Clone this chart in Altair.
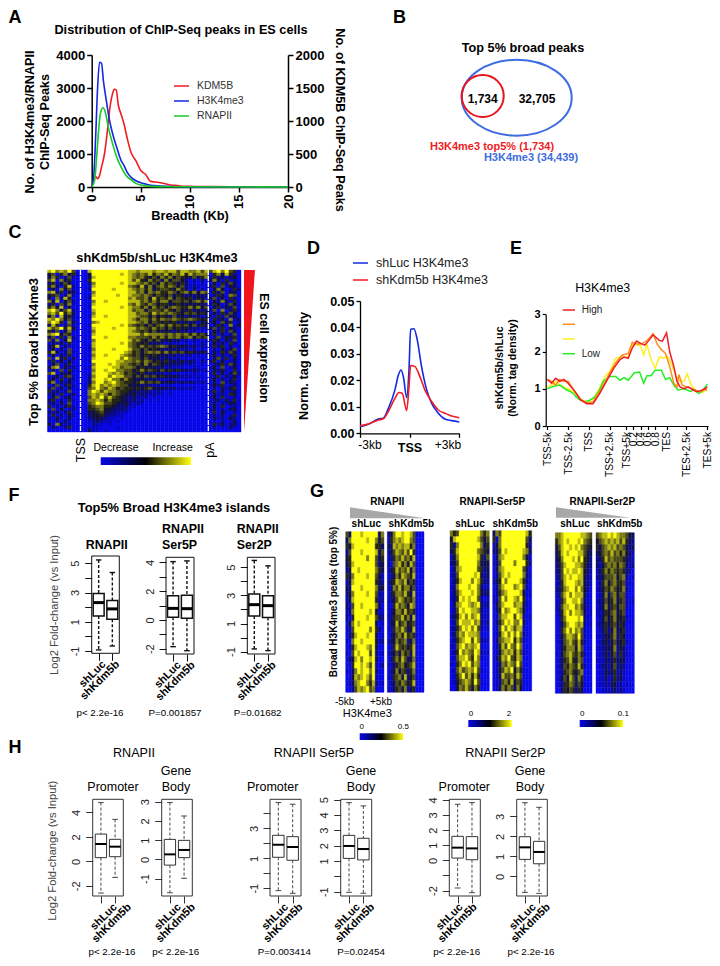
import altair as alt
import pandas as pd

W, H = 704, 950
FONT = "Liberation Sans"

def X(p): return p - 8
def Y(p): return p - 8

charts = []
ONE = alt.Data(values=[{"a": 1}])

def T(s, x, y, size=10, bold=False, angle=0, color="#000000", align="center"):
    kw = dict(fontSize=size, font=FONT, align=align, baseline="middle", color=color)
    if bold: kw["fontWeight"] = "bold"
    if angle: kw["angle"] = angle
    charts.append(alt.Chart(ONE).mark_text(**kw).encode(x=alt.value(X(x)), y=alt.value(Y(y)), text=alt.value(s)))

def HL(x0, x1, y, color, width=1.5):
    charts.append(alt.Chart(ONE).mark_rule(color=color, strokeWidth=width).encode(
        x=alt.value(X(x0)), x2=alt.value(X(x1)), y=alt.value(Y(y))))

def SHAPE(path, cx, cy, side, color, filled=True, sw=2):
    kw = dict(shape=path, size=side * side, opacity=1, color=color, filled=filled)
    if not filled: kw["strokeWidth"] = sw
    charts.append(alt.Chart(ONE).mark_point(**kw).encode(x=alt.value(X(cx)), y=alt.value(Y(cy))))

def sc_x(d, px): return alt.Scale(domain=d, range=[X(px[0]), X(px[1])], nice=False, zero=False)
def sc_y(d, px): return alt.Scale(domain=d, range=[Y(px[0]), Y(px[1])], nice=False, zero=False)

def ax_left(left, **k):
    base = dict(orient="left", offset=-X(left), title=None, grid=False, labelOverlap=False, labelFlush=False, labelFont=FONT)
    base.update(k); return alt.Axis(**base)
def ax_right(right, **k):
    base = dict(orient="right", offset=X(right) - W, title=None, grid=False, labelOverlap=False, labelFlush=False, labelFont=FONT)
    base.update(k); return alt.Axis(**base)
def ax_bottom(bottom, **k):
    base = dict(orient="bottom", offset=Y(bottom) - H, title=None, grid=False, labelOverlap=False, labelFlush=False, labelFont=FONT)
    base.update(k); return alt.Axis(**base)

def LINE(xs, ys, color, xs_scale, ys_scale, xaxis=None, yaxis=None, width=1.6, interp="monotone"):
    df = pd.DataFrame({"x": xs, "y": ys})
    charts.append(alt.Chart(df).mark_line(color=color, strokeWidth=width, interpolate=interp).encode(
        x=alt.X("x:Q", scale=xs_scale, axis=xaxis), y=alt.Y("y:Q", scale=ys_scale, axis=yaxis)))

# ---------- A ----------
a_kdm_x = [0, .2, .4, .6, .8, 1.0, 1.3, 1.6, 1.9, 2.1, 2.3, 2.5, 2.7, 3.0, 3.3, 3.6, 4.0, 4.5, 5, 5.5, 6, 6.5, 7, 7.5, 8, 8.5, 9, 10, 12, 15, 20]
a_kdm_y = [0, 100, 160, 125, 175, 300, 500, 850, 1250, 1400, 1480, 1475, 1250, 1100, 950, 750, 525, 400, 250, 190, 85, 75, 65, 50, 30, 25, 15, 10, 5, 2, 0]
a_h3_x = [0, .2, .4, .6, .8, 1.0, 1.2, 1.5, 1.8, 2.1, 2.5, 3, 3.3, 3.6, 4, 4.5, 5, 5.5, 6, 7, 8, 10, 20]
a_h3_y = [0, 300, 1500, 3000, 3780, 3750, 3200, 2600, 2050, 1650, 1250, 800, 650, 450, 300, 190, 130, 90, 50, 30, 15, 5, 0]
a_pol_x = [0, .3, .5, .7, .9, 1.15, 1.4, 1.7, 2, 2.5, 3, 3.5, 4, 4.5, 5, 6, 8, 20]
a_pol_y = [0, 200, 900, 1700, 2250, 2400, 2250, 1800, 1450, 950, 600, 350, 220, 110, 60, 20, 8, 0]

ax_a = dict(domainColor="#000", domainWidth=1.5, tickColor="#000", tickWidth=1.5, tickSize=5,
            labelFontWeight="bold", labelColor="#000", labelFontSize=13, labelPadding=2, format="d")
ax = sc_x([0, 20], (91.7, 288))
LINE(a_kdm_x, a_kdm_y, "#f01c24", ax, sc_y([0, 2000], (187, 55)),
     yaxis=ax_right(288, values=[0, 500, 1000, 1500, 2000], **ax_a))
LINE(a_h3_x, a_h3_y, "#1428e0", ax, sc_y([0, 4000], (187, 55)),
     xaxis=ax_bottom(187, values=[0, 5, 10, 15, 20], labelAngle=-90, labelAlign="right", labelBaseline="middle", **ax_a),
     yaxis=ax_left(91.7, values=[0, 1000, 2000, 3000, 4000], **ax_a))
LINE(a_pol_x, a_pol_y, "#18c828", ax, sc_y([0, 4000], (187, 55)))
T("Distribution of ChIP-Seq peaks in ES cells", 181, 30, 12.7, True)
T("No. of H3K4me3/RNAPII", 30, 122, 12.6, True, 270)
T("ChIP-Seq Peaks", 45, 122, 12.6, True, 270)
T("No. of KDM5B ChIP-Seq Peaks", 340, 120, 12.6, True, 90)
T("Breadth (Kb)", 190, 216, 12.8, True)
for lab, col, yy in zip(["KDM5B", "H3K4me3", "RNAPII"], ["#f01c24", "#1428e0", "#18c828"], [86, 101, 116]):
    HL(174, 189, yy, col)
    T(lab, 197, yy, 10.5, False, 0, "#333333", "left")

# ---------- B ----------
SHAPE("M-1,0 A1,0.69,0,1,1,1,0 A1,0.69,0,1,1,-1,0 Z", 516.7, 97.7, 110, "#3d6be0", False, 2)
SHAPE("circle", 482.7, 96, 42, "#e8141c", False, 2)
T("Top 5% broad peaks", 523, 48, 12.7, True)
T("1,734", 482.7, 99, 12, True)
T("32,705", 537, 99, 12, True)
T("H3K4me3 top5% (1,734)", 492, 147, 11, True, 0, "#ee1c25")
T("H3K4me3 (34,439)", 531, 158, 11, True, 0, "#3d6be0")

# ---------- heat maps ----------
palette = ["#0808e8", "#0808c0", "#0a0a90", "#0e0e60", "#12123a", "#262615", "#4a4a18", "#7c7c14", "#b8b810", "#ffff10"]

def HEAT(rows, left, right, top, bottom):
    rows = [r.replace(" ", "") for r in rows]
    ncol = max(len(r) for r in rows)
    rec = []
    for i, r in enumerate(rows):
        for j, ch in enumerate(r):
            rec.append({"c": j, "c2": j + 1, "r": i, "r2": i + 1, "h": palette[int(ch)]})
    df = pd.DataFrame(rec)
    charts.append(alt.Chart(df).mark_rect(strokeWidth=0.4).encode(
        x=alt.X("c:Q", scale=sc_x([0, ncol], (left, right)), axis=None), x2="c2:Q",
        y=alt.Y("r:Q", scale=sc_y([0, len(rows)], (top, bottom)), axis=None), y2="r2:Q",
        color=alt.Color("h:N", scale=None), stroke=alt.Stroke("h:N", scale=None)))

def GRAD(x0, x1, y0, y1):
    grad = alt.Gradient(gradient="linear", x1=0, x2=1, y1=0, y2=0, stops=[
        alt.GradientStop(color="#0808e8", offset=0), alt.GradientStop(color="#000000", offset=0.5),
        alt.GradientStop(color="#ffff10", offset=1)])
    charts.append(alt.Chart(ONE).mark_rect(color=grad).encode(
        x=alt.value(X(x0)), x2=alt.value(X(x1)), y=alt.value(Y(y0)), y2=alt.value(Y(y1))))

# ---------- C ----------
heat_c = [
"8978796 000 8999999999 88788878878868877868 68979650",
"4605735 100 4999999989 87676857685768586777 05738520",
"3750261 000 3899999999 87675464757465436357 15240340",
"6807350 000 5999999999 86854756374664202030 37405120",
"2513640 000 2799999989 88767564756535301010 04052630",
"5730582 000 1899999999 76584746757646212101 25061430",
"1407361 000 2999998999 87675735665475303020 03740152",
"7825043 000 0799999999 88674767557646757476 15260430",
"3560271 000 1899999899 87767646546354232423 02530761",
"4072850 000 2999999999 78667485657465452431 36140520",
"7380462 000 0799899999 88867575774665646757 04273150",
"2506371 000 1899999999 76865764553454343432 15302640",
"5738140 000 1999999989 87757475646765575746 03514260",
"8974682 000 0899999999 86774666575464352423 26070351",
"7869573 000 0799999999 88677586767654656454 04152630",
"4708352 000 1899899999 88766464543634242312 30516240",
"8797461 000 0999999999 87577575766765676545 05240713",
"7985073 000 0789999999 88767465454532423134 14063502",
"3850261 000 1999999989 76564646757565646353 02530714",
"8679584 000 0899998999 88676575646454332212 36150420",
"5260371 000 1799999999 87656464343242312010 04251630",
"7893650 000 0899999999 88868777767676757564 15030260",
"3605172 000 1999899999 77666575757675674656 02614350",
"6270481 000 0799999999 86754646434231202101 25304160",
"0314050 000 0899999989 76545323212110101021 04130520",
"2580301 000 1899999999 76575656764534323121 15250301",
"1403060 000 1799998999 86646454323231202010 02041360",
"5830261 000 0899999998 75646767575656454343 03152640",
"0403150 000 1799899987 65645454332312120101 14030250",
"6082503 000 0899999979 76646343232120101010 03615040",
"1504031 000 1999999887 76757645353424232021 25040130",
"0360250 000 0799989877 65647465433232121010 02351640",
"3780412 000 1899998867 76454342312111001100 14060230",
"1306051 000 0799899776 64575654645453323212 03241050",
"6803240 000 1899987875 65353232212010101000 15040362",
"0240561 000 2799979886 64646564543432121110 02503140",
"1405032 000 2899897757 54343232112110100100 14030250",
"5703140 000 3799789765 54575656434323232121 03061420",
"0260351 000 5897878766 43423212011000000000 14250130",
"2604031 000 6797687565 54545643432312121010 02031450",
"5130260 000 7986877655 43323212101000000000 15040230",
"1405013 000 7878757654 34232121101000000000 03120540",
"0360240 000 6879686543 23212010000000000000 14050120",
"3502051 000 7787575543 23120101000000000000 02304150",
"1304060 000 6798665434 21210000000000000000 13021430",
"5020351 000 5677554323 11000000000000000000 04050120",
"0604012 000 5567443232 10000000000000000000 13020340",
"3130250 000 3456432211 00000000000000000000 05041020",
"0502041 000 3445322110 00000000000000000000 12030150",
"2041030 000 2343211010 00000000000000000000 03120420",
"1020310 000 1232110100 00000000000000000000 01020130",
"4073120 000 0211010000 00000000000000000000 05140230",
"0310250 000 1110000100 00000000000000000000 02010310",
"0000000 000 3110100000 00000000000000000000 00000000",
]
HEAT(heat_c, 47.5, 241, 270, 432)
for xx in [80.5, 208.3]:
    charts.append(alt.Chart(ONE).mark_rule(color="#ffffff", strokeWidth=1.3, strokeDash=[5, 1]).encode(
        x=alt.value(X(xx)), y=alt.value(Y(270)), y2=alt.value(Y(432))))
SHAPE("M-1,-1 L-0.865,-1 L-1,1 Z", 325, 351, 162, "#f0141c")
T("shKdm5b/shLuc H3K4me3", 157, 258, 12.8, True)
T("Top 5% Broad H3K4me3", 34, 352, 12.9, True, 270)
T("ES cell expression", 264, 348, 12.4, True, 90)
T("TSS", 80.7, 450, 12.5, False, 270)
T("pA", 210, 450, 12.5, False, 270)
T("Decrease", 116, 447.7, 10.5)
T("Increase", 172.7, 447.7, 10.5)
GRAD(100.7, 191, 457.3, 465)

# ---------- D ----------
d_blue_x = [-3, -2.5, -1.89, -1.59, -1.29, -.89, -.68, -.52, -.38, -.18, -.04, .06, .26, .46, .72, 1.03, 1.33, 1.73, 2.13, 2.54, 3]
d_blue_y = [.0025, .0034, .0054, .0057, .0093, .0164, .022, .0239, .0214, .0135, .0239, .0393, .0395, .0353, .0252, .0164, .0113, .0076, .0054, .0048, .0043]
d_red_x = [-3, -2.5, -1.89, -1.59, -1.29, -.89, -.65, -.45, -.18, -.04, .06, .32, .62, .92, 1.33, 1.73, 2.13, 2.54, 3]
d_red_y = [.0028, .0035, .005, .0055, .0082, .0132, .0154, .0151, .0086, .0176, .0256, .0252, .0214, .0164, .012, .0088, .0076, .0065, .0059]
dx = sc_x([-3, 3], (360, 459.3))
dy = sc_y([0, .05], (433.3, 301))
ax_d = dict(domainColor="#000", domainWidth=1.3, tickColor="#000", tickWidth=1.3, tickSize=4)
LINE(d_blue_x, d_blue_y, "#1428e0", dx, dy,
     xaxis=ax_bottom(433.3, values=[-3, 0, 3], labels=False, **ax_d),
     yaxis=ax_left(360, values=[0, .01, .02, .03, .04, .05], format=".2f", labelFontWeight="bold", labelColor="#000", labelFontSize=12.5, labelPadding=2, **ax_d))
LINE(d_red_x, d_red_y, "#f01c24", dx, dy)
T("-3kb", 370, 444.7, 12)
T("TSS", 410, 448, 12.5, True)
T("+3kb", 448, 444.7, 12)
T("Norm. tag density", 304, 366, 12.8, True, 270)
for lab, col, yy in zip(["shLuc H3K4me3", "shKdm5b H3K4me3"], ["#1428e0", "#f01c24"], [263, 280]):
    HL(353, 368, yy, col)
    T(lab, 376, yy, 12.5, False, 0, "#222222", "left")

# ---------- E ----------
e_tick_pos = [0, 10, 20, 30, 38, 41.4, 45, 48.4, 52, 57.5, 67, 77.2]
e_tick_lab = ["TSS-5k", "TSS-2.5k", "TSS", "TSS+2.5k", "TSS+5k", "0.2", "0.4", "0.6", "0.8", "TES", "TES+2.5k", "TES+5k"]
e_red_x = [0, 2, 4, 6, 8, 10, 13, 16, 19, 22, 25, 28, 32, 35, 37, 39, 41, 43, 45, 47, 49, 51, 54, 55.5, 57.5, 59, 61, 62.5, 64, 66, 68, 70, 72, 74, 76, 77.2]
e_red_y = [1.25, 1.15, 1.28, 1.2, 1.25, 1.15, .95, .7, .6, .6, .85, 1.15, 1.55, 1.78, 1.85, 1.82, 2.1, 2.28, 2.22, 2.17, 2.3, 2.45, 2.3, 2.28, 2.5, 2, 1.6, 1.2, 1.05, 1.0, 1.05, .98, .92, .95, 1.0, 1.05]
e_org_x = [0, 2, 4, 6, 8, 10, 13, 16, 19, 22, 25, 28, 30, 33, 36, 39, 41, 43, 45, 47, 49, 51, 53, 55, 57, 59, 61, 62.5, 63.5, 65, 67, 70, 72, 74, 76, 77]
e_org_y = [1.25, 1.2, 1.1, 1.25, 1.2, 1.2, .95, .72, .62, .65, .9, 1.2, 1.42, 1.7, 1.9, 1.95, 2.25, 2.2, 2.2, 2.25, 2.35, 2.48, 2.2, 2.05, 1.95, 1.6, 1.15, 1.05, 1.38, 1.1, 1.05, 1.0, .95, .92, 1.0, .95]
e_yel_x = [0, 2, 4, 6, 8, 10, 13, 16, 19, 22, 25, 28, 30, 33, 36, 39, 41, 43, 45, 46.5, 48, 50, 52, 54, 56, 58, 60, 62, 64, 66, 67.5, 69, 71, 73, 75, 77]
e_yel_y = [1.05, 1.1, 1.2, 1.1, 1.05, 1.0, .9, .7, .65, .72, 1.0, 1.35, 1.45, 1.82, 1.85, 1.85, 2.2, 2.18, 2.15, 1.9, 2.2, 1.8, 1.55, 1.85, 1.83, 1.87, 1.65, 1.35, 1.2, 1.2, 1.4, 1.15, .95, .95, .9, 1.0]
e_grn_x = [0, 3, 6, 9, 12, 15, 18, 20, 23, 25, 27, 30, 33, 35, 37, 39, 42, 44.5, 46.5, 48, 50, 52, 55, 57, 59, 61, 63, 66, 69, 71, 73, 75, 77.2]
e_grn_y = [1.0, 1.07, 1.1, .98, .9, .72, .65, .68, .78, .95, 1.2, 1.33, 1.33, 1.23, 1.3, 1.23, 1.43, 1.45, 1.15, 1.35, 1.35, 1.5, 1.5, 1.25, 1.3, 1.1, .97, 1.0, .93, .98, .87, .95, 1.13]
ex = sc_x([-0.8, 77.5], (545.7, 708))
ey = sc_y([0, 3], (426, 314.3))
ax_e = dict(domainColor="#000", domainWidth=1.2, tickColor="#000", tickWidth=1.2, tickSize=3.5, labelColor="#000")
lab_expr = "[" + ",".join("'%s'" % s for s in e_tick_lab) + "][indexof([" + ",".join(str(p) for p in e_tick_pos) + "], datum.value)]"
LINE(e_yel_x, e_yel_y, "#ffee22", ex, ey, width=1.5, interp="linear",
     xaxis=ax_bottom(426, values=e_tick_pos, labelExpr=lab_expr, labelAngle=-90, labelAlign="right", labelBaseline="middle", labelFontSize=10.2, labelPadding=2, **ax_e),
     yaxis=ax_left(545.7, values=[0, 1, 2, 3], format="d", labelFontWeight="bold", labelFontSize=11, labelPadding=2, **ax_e))
LINE(e_grn_x, e_grn_y, "#22ee22", ex, ey, width=1.5, interp="linear")
LINE(e_org_x, e_org_y, "#ff8c1a", ex, ey, width=1.5, interp="linear")
LINE(e_red_x, e_red_y, "#f01c24", ex, ey, width=1.5, interp="linear")
T("H3K4me3", 602.7, 288, 12.4)
T("shKdm5b/shLuc", 500, 368, 10.7, True, 270)
T("(Norm. tag density)", 513, 368, 10.7, True, 270)
for lab, col, yy in zip(["High", "", "", "Low"], ["#f01c24", "#ff8c1a", "#ffee22", "#22ee22"], [310, 324.3, 339, 353.7]):
    HL(562.7, 575, yy, col)
    if lab: T(lab, 581.7, yy, 10, False, 0, "#222222", "left")

# ---------- box plots ----------
def BOX(stats, frame, ylim, ticks, labelled, xlim, thick, loff, tick=7):
    left, right, top, bottom = frame
    col = "#111111" if thick else "#333333"
    sw = 1.5 if thick else 1.0
    msw = 3 if thick else 2
    wsw = 1.4 if thick else 0.9
    xs = sc_x(xlim, (left, right))
    ys = sc_y(ylim, (bottom, top))
    rec = []
    for p, (lo, q1, med, q3, hi) in zip([1, 2], stats):
        rec.append(dict(p=p, a=p - .4, b=p + .4, c0=p - .2, c1=p + .2, lo=lo, q1=q1, med=med, q3=q3, hi=hi))
    df = pd.DataFrame(rec)
    xq = lambda f, axis=None: alt.X(f + ":Q", scale=xs, axis=axis)
    yq = lambda f, axis=None: alt.Y(f + ":Q", scale=ys, axis=axis)
    ycfg = dict(values=ticks, labelExpr="indexof([%s], datum.value) >= 0 ? '' + datum.value : ''" % ",".join(map(str, labelled)),
                labelAngle=-90, labelAlign="center", labelBaseline="bottom", labelFontSize=11, labelColor="#222222",
                labelPadding=4, domain=False, tickColor=col, tickWidth=1, tickSize=tick)
    xcfg = dict(values=[1, 2], labelExpr="datum.value == 1 ? 'shLuc' : 'shKdm5b'", labelAngle=-45, labelAlign="right",
                labelBaseline="middle", labelFontSize=11, labelFontWeight="bold", labelColor="#000", labelPadding=2,
                labelOffset=loff, domain=False, tickColor=col, tickWidth=1, tickSize=tick)
    charts.append(alt.Chart(ONE).mark_rect(fill="transparent", stroke=col, strokeWidth=1).encode(
        x=alt.value(X(left)), x2=alt.value(X(right)), y=alt.value(Y(top)), y2=alt.value(Y(bottom))))
    base = alt.Chart(df)
    charts.append(base.mark_rule(color=col, strokeWidth=wsw, strokeDash=[3, 2]).encode(
        x=xq("p", ax_bottom(bottom, **xcfg)), y=yq("hi", ax_left(left, **ycfg)), y2="q3:Q"))
    charts.append(base.mark_rule(color=col, strokeWidth=wsw, strokeDash=[3, 2]).encode(x=xq("p"), y=yq("q1"), y2="lo:Q"))
    charts.append(base.mark_rule(color=col, strokeWidth=wsw).encode(x=xq("c0"), x2="c1:Q", y=yq("hi")))
    charts.append(base.mark_rule(color=col, strokeWidth=wsw).encode(x=xq("c0"), x2="c1:Q", y=yq("lo")))
    charts.append(base.mark_rect(fill="#ffffff", stroke=col, strokeWidth=sw).encode(x=xq("a"), x2="b:Q", y=yq("q3"), y2="q1:Q"))
    charts.append(base.mark_rule(color="#000", strokeWidth=msw).encode(x=xq("a"), x2="b:Q", y=yq("med")))

# ---------- F ----------
f1 = [[-.93, 1.4, 2.31, 2.93, 5.23], [-.66, 1.17, 1.88, 2.45, 4.37]]
f2 = [[-1.86, .18, .8, 1.68, 4.05], [-2.14, .11, .78, 1.72, 4.1]]
f3 = [[-.81, 1.54, 2.34, 3.1, 5.49], [-.93, 1.42, 2.27, 2.98, 5.1]]
BOX(f1, (91.7, 119.3, 556, 653.3), [-1.16, 5.5], [-1, 0, 1, 2, 3, 4, 5], [-1, 1, 3, 5], [.49, 2.51], True, 5)
BOX(f2, (166, 194, 557.3, 654), [-2.37, 4.35], [-2, -1, 0, 1, 2, 3, 4], [-2, 0, 2, 4], [.49, 2.51], True, 6)
BOX(f3, (247.3, 275, 557.3, 654), [-1.17, 5.71], [-1, 0, 1, 2, 3, 4, 5], [-1, 1, 3, 5], [.49, 2.51], True, 6)
T("Top5% Broad H3K4me3 islands", 174, 508, 12.9, True)
T("RNAPII", 106.7, 545, 12.4, True)
T("RNAPII", 162, 529, 12.4, True, 0, "#000", "left")
T("Ser5P", 162, 545, 12.4, True, 0, "#000", "left")
T("RNAPII", 236.7, 529, 12.4, True, 0, "#000", "left")
T("Ser2P", 236.7, 545, 12.4, True, 0, "#000", "left")
T("Log2 Fold-change (vs Input)", 55, 605, 11.2, False, 270, "#444444")
T("p< 2.2e-16", 100, 712.7, 9.8)
T("P=0.001857", 175, 712.7, 9.8)
T("P=0.01682", 257.7, 712.7, 9.8)

# ---------- G ----------
g1 = ["6399989999937","3799999899746","5489999999553","2699989999836","4599999799635","3589999999624","2499899999753","5379999899641","1489999999532","3299989999734","2479999899621","1389999999512","3169989999730","1279999989411","2059999899632","0379899999301","1169999979520","0258999899301","1079989999412","0158999879300","1069899969201","0248979989300","0059989869102","1037989979200","0048789869100","0137899758201","0026878967100"]
g2 = ["2479989986100","1578789976000","3387878857000","1468768695000","1257686758000","2067857486000","1358676847000","0247587658000","1458768465000","1276857746000","0357768538000","1246875657000","1058676487000","0247758565000","1256685738000","0348567456000","1157686348000","0246758565000","1347567247000","0158656458000","1246475638000","0257586347000","1135674568000","0247465257000","1156748346000","0236576458000","1135647235000"]
g3 = ["7569999999757","4899999998646","5279999999735","3589999997654","1479999998526","2369999997434","0378999996523","1269999989413","0358999798522","1279998997311","0368999897423","1259898996201","0378998789312","0269899887301","1358979789211","0269888978302","1257989796201","0368798887100","0257899697211","1168978789100","0259787698201","0168897597100","1057989687000","0168678796100","0157968585000","0146787596100","0047686475000"]
g4 = ["3769999999985","5179999999963","1479999999952","2369899999873","0378999999741","1269999799952","0378999999630","0268989999721","1359799998520","0268999789610","0257899998401","1169799879500","0368999788310","0259789987400","0168899698201","0257989779300","0169798688100","0158979797200","0267889586100","0158697697000","0147878586100","0258796587000","0137687696000","0146879475000","0138667586000","0126758465000","0137576374000"]
g5 = ["7789999998876","5789899989765","4689989897654","3589899988643","3479998979542","2468999887532","2369898898431","1368989988421","1258999878321","2257899797420","1268979888310","1157998897210","1268899786310","0258979887301","0157999989210","0146899878201","0157979786100","0146887696100","0136786585100","0135777486000","1046786575100","0135685476000","0136576585100","0125675467000","0136486375000","0125576364000","0035465253000"]
g6 = ["6788989877643","4678787868532","5367878676423","3467686757431","2358676665321","3146767576312","1357576565220","2246667467201","0257467556110","1246576457200","0147367466100","1236457356101","0247356466100","1135467356000","0146357445100","1235356354000","0135247345000","1124357254000","0134246345100","1123347243000","0124246252100","1113235243000","0123146232000","0114235131000","0113125231000","0112134120100","0011123121000"]
HEAT(g1, 345.7, 384, 531.7, 692.3)
HEAT(g2, 387.3, 424, 531.7, 692.3)
HEAT(g3, 450, 489.3, 530.7, 691)
HEAT(g4, 492.7, 531.7, 530.7, 691)
HEAT(g5, 555.3, 592, 532.7, 693.3)
HEAT(g6, 596, 634.3, 532.7, 693.3)
T("RNAPII", 387.3, 501.7, 10, True)
T("RNAPII-Ser5P", 492.3, 501.7, 10, True)
T("RNAPII-Ser2P", 602.3, 501.7, 10, True)
SHAPE("M-1,-0.147 L-1,0.147 L1,0.147 Z", 387.5, 512.8, 75, "#a8a8a8")
SHAPE("M-1,-0.14 L-1,0.14 L1,0.14 Z", 593, 512.5, 74, "#a8a8a8")
for lab, xx in [("shLuc", 366.3), ("shKdm5b", 411.3), ("shLuc", 470), ("shKdm5b", 515.3), ("shLuc", 575), ("shKdm5b", 619.7)]:
    T(lab, xx, 524, 10, True)
T("Broad H3K4me3 peaks (top 5%)", 334.3, 602, 10, True, 270)
T("-5kb", 344.7, 702, 10)
T("+5kb", 381, 702, 10)
T("H3K4me3", 367.3, 714, 11)
GRAD(359.7, 403, 733.3, 740)
T("0", 361.7, 727, 8); T("0.5", 403.3, 727, 8)
GRAD(468.3, 511.7, 720, 727)
T("0", 471, 714, 8); T("2", 509, 714, 8)
GRAD(579.7, 623, 720, 727)
T("0", 582.3, 714, 8); T("0.1", 623.3, 714, 8)

# ---------- H ----------
h1 = [[-2.59, .3, 1.42, 2.23, 4.8], [-1.31, .38, 1.2, 1.8, 3.43]]
h2 = [[-1.74, -.3, .26, 1.04, 2.96], [-.99, .09, .49, .99, 2.26]]
h3 = [[-1.16, 1.07, 1.91, 2.54, 4.73], [-1.34, .87, 1.76, 2.45, 4.62]]
h4 = [[-1.04, 1.17, 1.98, 2.67, 4.8], [-1.1, 1.07, 1.78, 2.48, 4.59]]
h5 = [[-1.83, .15, .84, 1.59, 3.71], [-2.14, .04, .79, 1.57, 3.82]]
h6 = [[-.8, .85, 1.45, 1.98, 3.68], [-.85, .63, 1.22, 1.75, 3.45]]
lim = [.42, 2.58]
BOX(h1, (92.7, 123.3, 799.3, 896), [-2.83, 5.07], [-2, 0, 2, 4], [-2, 0, 2, 4], lim, False, 14)
BOX(h2, (161.7, 192.3, 799.3, 896), [-1.91, 3.13], [-1, 0, 1, 2, 3], [-1, 0, 1, 2, 3], lim, False, 9)
BOX(h3, (270, 301, 799.3, 896), [-1.52, 4.95], [-1, 0, 1, 2, 3, 4], [-1, 1, 3], lim, False, 8)
BOX(h4, (340.7, 371.7, 799.3, 896), [-1.28, 5.02], [-1, 0, 1, 2, 3, 4, 5], [-1, 1, 2, 3, 4, 5], lim, False, 9)
BOX(h5, (449.3, 480.3, 799.3, 896), [-2.36, 4.04], [-2, -1, 0, 1, 2, 3, 4], [-2, 0, 1, 2, 3, 4], lim, False, 3)
BOX(h6, (516.7, 547.3, 799.3, 896), [-.98, 3.85], [0, 1, 2, 3], [0, 1, 2, 3], lim, False, 9)
T("RNAPII", 134, 753, 12.6)
T("RNAPII Ser5P", 314, 753, 12.6)
T("RNAPII Ser2P", 505.5, 753, 12.6)
T("Promoter", 113, 786.7, 12.5)
T("Gene", 176, 771, 12.5); T("Body", 176, 786.7, 12.5)
T("Promoter", 272.7, 786.7, 12.5)
T("Gene", 361, 771, 12.5); T("Body", 361, 786.7, 12.5)
T("Promoter", 464.3, 786.7, 12.5)
T("Gene", 530, 771, 12.5); T("Body", 530, 786.7, 12.5)
T("Log2 Fold-change (vs Input)", 53, 850.7, 11.2, False, 270, "#444444")
T("p< 2.2e-16", 112, 951.5, 9.8)
T("p< 2.2e-16", 175.7, 951.5, 9.8)
T("P=0.003414", 284.3, 951.5, 9.8)
T("P=0.02454", 361, 951.5, 9.8)
T("p< 2.2e-16", 456.7, 951.5, 9.8)
T("p< 2.2e-16", 531, 951.5, 9.8)

# ---------- panel letters ----------
for lab, xx, yy in [("A", 8.5, 18), ("B", 393, 18), ("C", 8.5, 233), ("D", 307, 249), ("E", 510, 249),
                    ("F", 8.5, 496), ("G", 310, 492), ("H", 8.5, 748)]:
    T(lab, xx, yy, 18, True, 0, "#000", "left")

chart = alt.layer(*charts).resolve_scale(x="independent", y="independent").properties(
    width=W, height=H, padding=0, autosize=alt.AutoSizeParams(type="none", contains="padding")
).configure_view(stroke=None)
chart.save("out.html", embed_options={"renderer": "svg", "actions": False})
